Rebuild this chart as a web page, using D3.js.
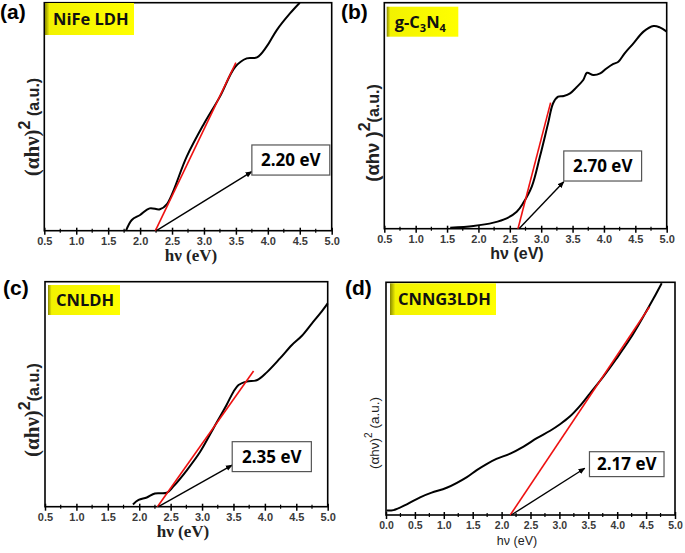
<!DOCTYPE html>
<html><head><meta charset="utf-8">
<script src="https://cdn.jsdelivr.net/npm/d3@7"></script>
<style>body{margin:0;background:#fff}svg{display:block}</style>
</head><body>
<svg id="c" width="685" height="553"></svg>
<script>
// ---- data (photon energy eV, (αhν)^2 arbitrary units) ----
const nifeX = [1.78,1.87,2.0,2.15,2.31,2.42,2.73,2.99,3.25,3.49,3.67,3.83,3.98,4.14,4.35,4.50];
const nifeY = [0,4.7,6.9,9.8,9.4,11.7,32.5,46.4,58.8,71.9,75.6,76.0,80.7,88.0,95.4,100];
const gcnX = [1.55,1.92,2.24,2.45,2.61,2.71,2.85,2.98,3.11,3.19,3.27,3.36,3.46,3.56,3.67,3.73,3.83,3.94,4.04,4.15,4.23,4.33,4.47,4.63,4.79,4.89,5.0];
const gcnY = [0.4,1.2,2.7,4.6,7.5,11.2,18.6,31.9,46.6,55.5,58.4,58.7,59.9,62.5,65.8,69.0,68.0,68.7,70.9,72.9,73.9,77.6,82.0,87.2,89.7,89.1,87.2];
const cnldhX = [1.90,1.99,2.12,2.25,2.44,2.54,2.76,2.97,3.18,3.39,3.50,3.58,3.71,3.88,4.03,4.24,4.43,4.59,4.75,4.88,5.0];
const cnldhY = [1.0,3.0,4.1,5.9,6.2,8.9,16.3,24.4,34.8,45.2,51.1,54.1,55.6,56.3,59.7,65.9,71.9,76.0,81.5,85.9,90.4];
const cnngX = [0.01,0.13,0.36,0.59,0.79,1.05,1.40,1.57,1.74,1.91,2.15,2.38,2.61,2.84,3.01,3.18,3.36,3.53,3.76,3.99,4.22,4.45,4.63,4.77];
const cnngY = [1.9,2.1,4.6,7.6,9.6,11.7,16.3,19.3,21.9,24.1,26.4,29.4,33.0,36.2,39.0,42.3,47.0,52.3,59.5,67.3,75.6,85.2,93.1,99.6];
// Tauc fit lines [x0,y0,x1,y1]
const fitA = [2.24,0,3.50,73.7];
const fitB = [2.63,0,3.15,55.8];
const fitC = [2.29,0,3.82,60.3];
const fitD = [2.15,0,4.56,89.5];
// band gap labels
const gapLabels = ["2.20 eV","2.70 eV","2.35 eV","2.17 eV"];
const panelLetters = ["(a)","(b)","(c)","(d)"];
const sampleNames = ["NiFe LDH","g-C3N4","CNLDH","CNNG3LDH"];
const ticksA = [0.5,1.0,1.5,2.0,2.5,3.0,3.5,4.0,4.5,5.0];
const ticksD = [0.0,0.5,1.0,1.5,2.0,2.5,3.0,3.5,4.0,4.5,5.0];
// annotation: arrow tip and box (data coords) [tipX, tipY, boxX0, boxY0, boxX1, boxY1]
const annA = [3.75,25.9,3.75,24.4,4.97,37.6];
const annB = [3.36,20.8,3.36,21.1,4.60,34.4];
const annC = [3.48,18.5,3.48,15.6,4.74,28.9];
const annD = [3.44,20.1,3.52,16.5,4.81,27.2];

const svg = d3.select("#c");
svg.append("defs").append("marker").attr("id","ah").attr("viewBox","0 0 10 10")
  .attr("refX",9).attr("refY",5).attr("markerWidth",5).attr("markerHeight",5)
  .attr("orient","auto").append("path").attr("d","M0,1L10,5L0,9z").attr("fill","#000");
const grad = svg.select("defs").append("linearGradient").attr("id","yg").attr("x1",0).attr("x2",1);
grad.append("stop").attr("offset",0).attr("stop-color","#8a8a00");
grad.append("stop").attr("offset",0.05).attr("stop-color","#f2f200");
grad.append("stop").attr("offset",1).attr("stop-color","#ffff00");

const panels = [
 {L:44.3,R:331.7,T:2.7,B:230.7,dom:[0.5,5],ticks:ticksA,xs:nifeX,ys:nifeY,fit:fitA,ann:annA,
  letter:[0,19],name:[45,3,134,35],serif:true,ylab:[33,127],xlab:[191,261],tickSize:11},
 {L:384.3,R:666.7,T:2.7,B:228.7,dom:[0.5,5],ticks:ticksA,xs:gcnX,ys:gcnY,fit:fitB,ann:annB,
  letter:[341,19],name:[386.7,6.7,458.3,36.7],serif:false,ylab:[373,133],xlab:[517,259],tickSize:11},
 {L:45,R:327.7,T:281.7,B:506.7,dom:[0.5,5],ticks:ticksA,xs:cnldhX,ys:cnldhY,fit:fitC,ann:annC,
  letter:[3,295],name:[48,285,120,315],serif:true,ylab:[33,410],xlab:[183,537],tickSize:11},
 {L:386,R:675,T:282.3,B:515,dom:[0,5],ticks:ticksD,xs:cnngX,ys:cnngY,fit:fitD,ann:annD,
  letter:[345,295],name:[390,283.3,496,315],serif:false,small:true,ylab:[373,433],xlab:[517,545],tickSize:10.5}
];

panels.forEach((p,i)=>{
  const g = svg.append("g");
  const x = d3.scaleLinear().domain(p.dom).range([p.L,p.R]);
  const y = d3.scaleLinear().domain([0,100]).range([p.B,p.T]);
  // minor ticks
  const minor = d3.range(p.dom[0]+0.25,p.dom[1],0.5);
  g.selectAll(null).data(minor).enter().append("line")
    .attr("x1",d=>x(d)).attr("x2",d=>x(d)).attr("y1",p.B-2).attr("y2",p.B+2)
    .attr("stroke","#000").attr("stroke-width",1.2);
  const ax = d3.axisBottom(x).tickValues(p.ticks).tickFormat(d3.format(".1f")).tickSizeInner(4).tickSizeOuter(0);
  const axg = g.append("g").attr("transform",`translate(0,${p.B})`).call(ax);
  axg.select(".domain").remove();
  axg.selectAll(".tick line").attr("stroke","#000").attr("stroke-width",1.5).attr("y1",-3);
  axg.selectAll(".tick text").attr("font-family","Liberation Sans, Arial").attr("font-weight","bold")
    .attr("font-size",p.tickSize).attr("fill","#3a3a3a").attr("dy",null).attr("y",14);
  // frame
  g.append("rect").attr("x",p.L).attr("y",p.T).attr("width",p.R-p.L).attr("height",p.B-p.T)
    .attr("fill","none").attr("stroke","#000").attr("stroke-width",1.6);
  // curve
  const pts = p.xs.map((v,k)=>[v,p.ys[k]]);
  g.append("path").datum(pts).attr("d",d3.line().x(d=>x(d[0])).y(d=>y(d[1])).curve(d3.curveCatmullRom))
    .attr("fill","none").attr("stroke","#000").attr("stroke-width",2);
  // fit line
  g.append("line").attr("x1",x(p.fit[0])).attr("y1",y(p.fit[1])).attr("x2",x(p.fit[2])).attr("y2",y(p.fit[3]))
    .attr("stroke","#ee1111").attr("stroke-width",1.6);
  // arrow
  g.append("line").attr("x1",x(p.fit[0])+1).attr("y1",y(0)).attr("x2",x(p.ann[0])).attr("y2",y(p.ann[1]))
    .attr("stroke","#000").attr("stroke-width",1.4).attr("marker-end","url(#ah)");
  // box
  const bx0=x(p.ann[2]), bx1=x(p.ann[4]), by0=y(p.ann[5]), by1=y(p.ann[3]);
  g.append("rect").attr("x",bx0).attr("y",by0).attr("width",bx1-bx0).attr("height",by1-by0)
    .attr("fill","#fff").attr("stroke","#555").attr("stroke-width",1.2);
  g.append("text").attr("x",(bx0+bx1)/2).attr("y",(by0+by1)/2+6).attr("text-anchor","middle")
    .attr("font-family","Open Sans, Liberation Sans").attr("font-weight","bold").attr("font-size",17)
    .text(gapLabels[i]);
  // panel letter
  g.append("text").attr("x",p.letter[0]).attr("y",p.letter[1]).attr("font-family","Liberation Sans, Arial")
    .attr("font-weight","bold").attr("font-size",21).text(panelLetters[i]);
  // sample name box
  const n = p.name;
  g.append("rect").attr("x",n[0]).attr("y",n[1]).attr("width",n[2]-n[0]).attr("height",n[3]-n[1]).attr("fill","url(#yg)");
  const nt = g.append("text").attr("x",n[0]+8).attr("y",(n[1]+n[3])/2+6)
    .attr("font-family","Open Sans, Liberation Sans").attr("font-weight","bold").attr("font-size",16.5).attr("fill","#111");
  if (sampleNames[i]==="g-C3N4") {
    nt.append("tspan").text("g-C");
    nt.append("tspan").attr("font-size",11).attr("dy",4).text("3");
    nt.append("tspan").attr("dy",-4).text("N");
    nt.append("tspan").attr("font-size",11).attr("dy",4).text("4");
  } else nt.text(sampleNames[i]);
  // y label
  const yl = g.append("text").attr("transform",`translate(${p.ylab[0]+6},${p.ylab[1]}) rotate(-90)`)
    .attr("text-anchor","middle").attr("font-weight", p.small?"normal":"bold").attr("fill","#222");
  if (p.small) {
    yl.attr("font-family","Liberation Sans, Arial").attr("font-size",13.5);
    yl.append("tspan").text("(αhν)");
    yl.append("tspan").attr("dy",-7).attr("font-size",10).text("2");
    yl.append("tspan").attr("dy",7).text(" (a.u.)");
  } else {
    yl.attr("font-family", p.serif?"Liberation Serif, Times New Roman":"Liberation Sans, Arial").attr("font-size",p.serif?21:18.5);
    yl.append("tspan").text(p.serif?"(αhν)":"(αhν )");
    yl.append("tspan").attr("dy",-9).attr("font-size",16).attr("font-family","Liberation Sans, Arial").text("2");
    yl.append("tspan").attr("dy",9).attr("font-family","Liberation Sans, Arial").attr("font-size",16).text(i===0?" (a.u.)":"(a.u.)");
  }
  // x label
  g.append("text").attr("x",p.xlab[0]).attr("y",p.xlab[1]).attr("text-anchor","middle")
    .attr("font-family", p.serif?"Liberation Serif, Times New Roman":"Liberation Sans, Arial")
    .attr("font-weight", p.small?"normal":"bold").attr("font-size", p.small?12.5:(p.serif?17:16)).attr("fill","#222")
    .text("hν (eV)");
});
</script>
</body></html>
